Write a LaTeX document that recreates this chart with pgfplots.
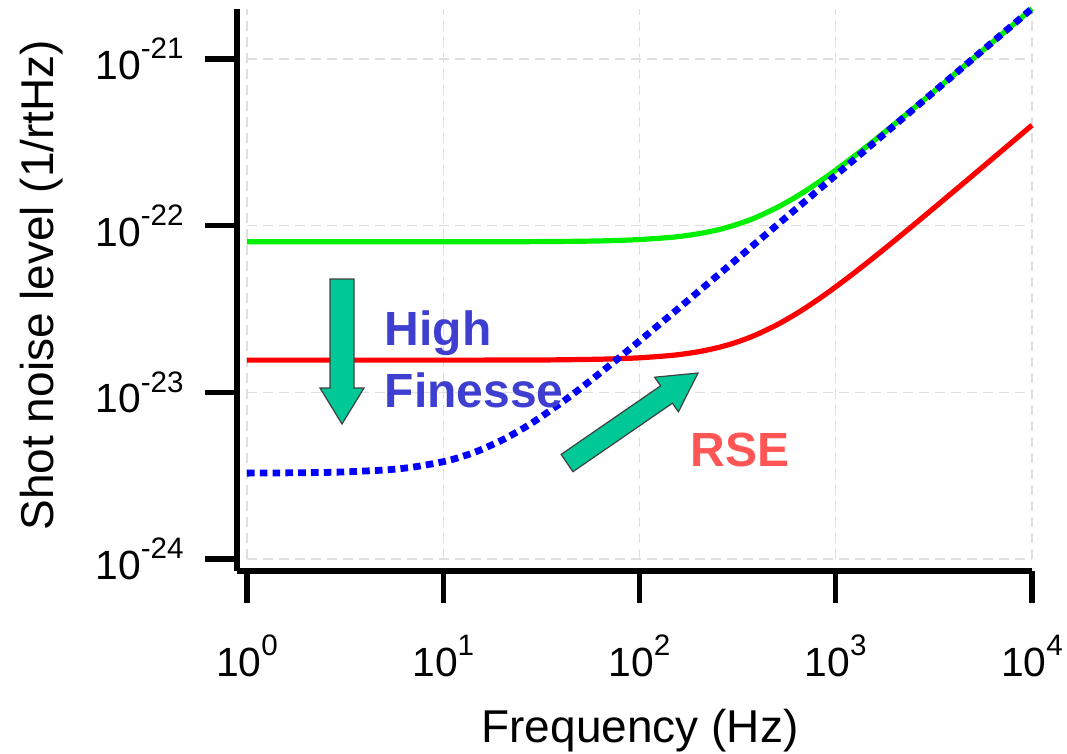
\documentclass[border=0pt]{standalone}
\usepackage{fontspec}
\setmainfont{Liberation Sans}
\usepackage{pgfplots}
\pgfplotsset{compat=1.18}
\newcommand{\tl}[1]{10\raisebox{5.2pt}{\fontsize{7.4}{8}\selectfont #1}}
\definecolor{arrowgreen}{RGB}{0,200,150}
\definecolor{hfblue}{RGB}{62,62,208}
\definecolor{rsered}{RGB}{255,85,85}
\definecolor{lgreen}{RGB}{0,240,0}
\begin{document}
\begin{tikzpicture}
\begin{axis}[
  xmode=log, ymode=log,
  scale only axis, width=198.75pt, height=140.57pt,
  xmin=0.8893, xmax=10000, ymin=8.47e-25, ymax=2e-21,
  axis lines=left, axis line style={-, line width=1.3pt, black},
  xtick={1,10,100,1000,10000},
  xticklabels={\tl{0},\tl{1},\tl{2},\tl{3},\tl{4}},
  ytick={1e-24,1e-23,1e-22,1e-21},
  yticklabels={\tl{-24},\tl{-23},\tl{-22},\tl{-21}},
  xminorticks=false, yminorticks=false,
  tick align=outside, major tick length=8pt,
  tick style={line width=1.3pt, black},
  tick label style={font=\fontsize{10.2}{12}\selectfont},
  xticklabel style={yshift=-4.5pt},
  yticklabel style={xshift=-1.8pt},
  xlabel={Frequency (Hz)}, ylabel={Shot noise level (1/rtHz)},
  label style={font=\fontsize{11.5}{13}\selectfont},
  xlabel style={at={(axis description cs:0.5069,-0.3041)}, anchor=base, inner sep=0pt},
  ylabel style={at={(axis description cs:-0.2314,0.5086)}, anchor=base, inner sep=0pt},
  clip=false,
]
\pgfplotsinvokeforeach{1,10,100,1000,10000}{
  \draw[gray!25, line width=0.35pt, dash pattern=on 2.5pt off 1.5pt] (axis cs:#1,1e-24) -- (axis cs:#1,2e-21);
}
\pgfplotsinvokeforeach{1e-24,1e-23,1e-22,1e-21}{
  \draw[gray!25, line width=0.35pt, dash pattern=on 2.5pt off 1.5pt] (axis cs:1,#1) -- (axis cs:10000,#1);
}
% Green
\addplot[lgreen, line width=1.3pt, smooth, no markers] coordinates {
(1,8.0e-23)(2,8.0e-23)(5,8.0e-23)(10,8.0e-23)(20,8.0e-23)(30,8.02e-23)(50,8.06e-23)
(70,8.12e-23)(100,8.25e-23)(150,8.54e-23)(200,8.94e-23)(250,9.43e-23)(300,1.0e-22)
(350,1.063e-22)(400,1.131e-22)(500,1.281e-22)(600,1.442e-22)(700,1.612e-22)(850,1.879e-22)
(1000,2.154e-22)(1200,2.530e-22)(1500,3.105e-22)(2000,4.079e-22)(3000,6.053e-22)
(5000,1.003e-21)(7000,1.402e-21)(10000,2.002e-21)};
% Red
\addplot[red, line width=1.3pt, smooth, no markers] coordinates {
(1,1.56e-23)(10,1.56e-23)(30,1.563e-23)(50,1.573e-23)(70,1.585e-23)(100,1.611e-23)
(150,1.671e-23)(200,1.753e-23)(250,1.853e-23)(300,1.968e-23)(350,2.096e-23)(400,2.235e-23)
(500,2.536e-23)(600,2.863e-23)(700,3.205e-23)(850,3.741e-23)(1000,4.293e-23)(1200,5.047e-23)
(1500,6.2e-23)(2000,8.151e-23)(3000,1.210e-22)(5000,2.006e-22)(7000,2.805e-22)(10000,4.003e-22)};
% Blue dotted
\addplot[blue, line width=1.7pt, smooth, no markers, line cap=butt, dash pattern=on 1.9pt off 1.3pt] coordinates {
(1,3.276e-24)(2,3.295e-24)(3,3.325e-24)(5,3.420e-24)(7,3.559e-24)(10,3.836e-24)(12,4.061e-24)
(15,4.444e-24)(20,5.176e-24)(25,5.987e-24)(30,6.849e-24)(40,8.665e-24)(50,1.055e-23)
(70,1.442e-23)(100,2.033e-23)(150,3.027e-23)(200,4.026e-23)(300,6.027e-23)(500,1.004e-22)
(700,1.404e-22)(1000,2.006e-22)(2000,4.012e-22)(3000,6.019e-22)(5000,1.003e-21)
(7000,1.404e-21)(10000,2.006e-21)};
\coordinate (P0) at (axis description cs:-0.29811,1.01547);
\end{axis}
\begin{scope}[shift={(P0)}, x=0.25pt, y=-0.25pt]
  \fill[arrowgreen, draw=black!75, line width=0.3pt]
    (330,279)--(354,279)--(354,388)--(364,388)--(342,424)--(320,388)--(330,388)--cycle;
  \fill[arrowgreen, draw=black!75, line width=0.3pt]
    (561.1,454.4)--(660.6,385.8)--(654.6,377.2)--(698,373)--(678.4,411.8)--(672.4,403.2)--(572.9,471.7)--cycle;
  \node[anchor=base west, inner sep=0pt, text=hfblue, font=\bfseries\fontsize{12}{14}\selectfont] at (384,345) {High};
  \node[anchor=base west, inner sep=0pt, text=hfblue, font=\bfseries\fontsize{12}{14}\selectfont] at (384,407) {Finesse};
  \node[anchor=base west, inner sep=0pt, text=rsered, font=\bfseries\fontsize{12}{14}\selectfont] at (690,466) {RSE};
  \pgfresetboundingbox
  \path[use as bounding box] (0,0) rectangle (1067,753);
\end{scope}
\end{tikzpicture}
\end{document}
